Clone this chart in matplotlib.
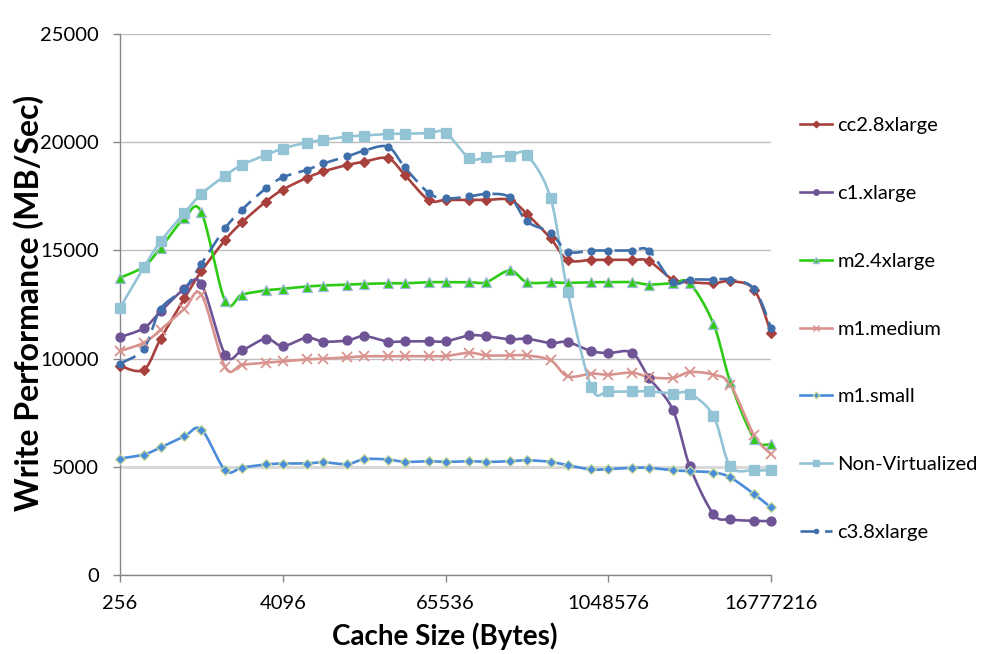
import numpy as np
import matplotlib
matplotlib.use("Agg")
import matplotlib.pyplot as plt
from matplotlib.lines import Line2D

# ---------------- data ----------------
cache_sizes = [256, 384, 512, 768, 1024, 1536, 2048, 3072, 4096, 6144, 8192,
               12288, 16384, 24576, 32768, 49152, 65536, 98304, 131072, 196608,
               262144, 393216, 524288, 786432, 1048576, 1572864, 2097152,
               3145728, 4194304, 6291456, 8388608, 12582912, 16777216]

cc2_8xlarge = [9660, 9490, 10920, 12790, 14035, 15480, 16295, 17250, 17800, 18340,
               18640, 18940, 19090, 19250, 18480, 17325, 17325, 17325, 17325, 17325,
               16680, 15550, 14560, 14560, 14560, 14560, 14500, 13650, 13530, 13480,
               13575, 13190, 11180]
c1_xlarge = [10995, 11410, 12180, 13225, 13455, 10185, 10380, 10920, 10580, 10965,
             10790, 10840, 11040, 10790, 10800, 10800, 10800, 11070, 11040, 10890,
             10920, 10720, 10765, 10350, 10260, 10275, 9125, 7650, 5050, 2825,
             2580, 2515, 2500]
m2_4xlarge = [13730, 14250, 15115, 16500, 16755, 12655, 12960, 13150, 13225, 13330,
              13375, 13420, 13450, 13480, 13480, 13530, 13530, 13530, 13530, 14070,
              13530, 13520, 13500, 13530, 13530, 13530, 13420, 13480, 13480, 11610,
              8920, 6310, 6050]
m1_medium = [10350, 10735, 11335, 12300, 12950, 9610, 9720, 9815, 9875, 9965,
             10000, 10060, 10110, 10110, 10120, 10120, 10120, 10275, 10150, 10150,
             10150, 9920, 9185, 9310, 9260, 9355, 9150, 9105, 9380, 9260,
             8800, 6465, 5590]
m1_small = [5390, 5575, 5900, 6420, 6730, 4850, 4975, 5115, 5160, 5160,
            5220, 5130, 5360, 5345, 5235, 5265, 5235, 5265, 5235, 5265,
            5310, 5235, 5080, 4885, 4900, 4960, 4960, 4850, 4805, 4745,
            4515, 3745, 3130]
non_virtualized = [12350, 14220, 15420, 16730, 17600, 18450, 18950, 19400, 19700, 19970,
                   20100, 20250, 20300, 20370, 20380, 20410, 20430, 19260, 19290, 19370,
                   19400, 17400, 13100, 8680, 8490, 8490, 8490, 8390, 8390, 7355,
                   5037, 4852, 4852]
c3_8xlarge = [9770, 10460, 12300, 13225, 14380, 16020, 16880, 17860, 18370, 18710,
              19010, 19335, 19600, 19780, 18830, 17650, 17400, 17490, 17600, 17450,
              16340, 15810, 14945, 14990, 14990, 14990, 14990, 13530, 13650, 13650,
              13650, 13225, 11430]

series_names = ["cc2.8xlarge", "c1.xlarge", "m2.4xlarge", "m1.medium",
                "m1.small", "Non-Virtualized", "c3.8xlarge"]
series_values = [cc2_8xlarge, c1_xlarge, m2_4xlarge, m1_medium,
                 m1_small, non_virtualized, c3_8xlarge]

xtick_values = [256, 4096, 65536, 1048576, 16777216]
xtick_labels = ["256", "4096", "65536", "1048576", "16777216"]
ytick_values = [0, 5000, 10000, 15000, 20000, 25000]
ytick_labels = ["0", "5000", "10000", "15000", "20000", "25000"]

x_label = "Cache Size (Bytes)"
y_label = "Write Performance (MB/Sec)"

# ---------------- styles ----------------
styles = [
    dict(color="#A8413D", marker="D", ms=5.5, mfc="#A8413D", mec="#A8413D", ls="-"),
    dict(color="#6F5495", marker="o", ms=6.5, mfc="#6F5495", mec="#6F5495", ls="-"),
    dict(color="#2DCB14", marker="^", ms=6.5, mfc="#2DCB14", mec="#A3B8DD", ls="-"),
    dict(color="#D8938F", marker="x", ms=6.5, mfc="#D8938F", mec="#D8938F", ls="-"),
    dict(color="#4A8BDA", marker="D", ms=5.5, mfc="#4A8BDA", mec="#C5DB9A", ls="-"),
    dict(color="#92C4D6", marker="s", ms=7, mfc="#92C4D6", mec="#92C4D6", ls="-"),
    dict(color="#3F6FAB", marker="o", ms=5, mfc="#3F6FAB", mec="#3F6FAB", ls="--"),
]

plt.rcParams["font.family"] = ["Lato", "DejaVu Sans"]


def smooth(xs, ys, n=24):
    """Bezier smoothing like spreadsheet 'smoothed line' (in log2-x space)."""
    P = np.column_stack([np.log2(np.asarray(xs, float)), np.asarray(ys, float)])
    Q = np.vstack([P[0], P, P[-1]])
    t = np.linspace(0, 1, n, endpoint=False)[:, None]
    segs = []
    for i in range(1, len(Q) - 2):
        p0, p1, p2, p3 = Q[i - 1], Q[i], Q[i + 1], Q[i + 2]
        c1 = p1 + (p2 - p0) / 6.0
        c2 = p2 - (p3 - p1) / 6.0
        segs.append((1 - t) ** 3 * p1 + 3 * (1 - t) ** 2 * t * c1
                    + 3 * (1 - t) * t ** 2 * c2 + t ** 3 * p2)
    segs.append(Q[-2][None, :])
    S = np.vstack(segs)
    return 2 ** S[:, 0], S[:, 1]


fig = plt.figure(figsize=(9.92, 6.54), dpi=100)
ax = fig.add_axes([120 / 992, 1 - 575.3 / 654, 651 / 992, (575.3 - 33.7) / 654])

lw = 1.9
handles = []
for name, vals, st in zip(series_names, series_values, styles):
    sx, sy = smooth(cache_sizes, vals)
    line, = ax.plot(sx, sy, color=st["color"], lw=lw, ls=st["ls"], clip_on=False,
                    solid_capstyle="round", zorder=3)
    if st["ls"] == "--":
        line.set_dashes((6.5, 2.8))
    ax.plot(cache_sizes, vals, ls="none", marker=st["marker"], ms=st["ms"],
            mfc=st["mfc"], mec=st["mec"], mew=1.3 if st["marker"] == "x" else 0.9,
            clip_on=False, zorder=4)
    h = Line2D([], [], color=st["color"], lw=lw, ls=st["ls"], marker=st["marker"],
               ms=st["ms"] * 0.6, mfc=st["mfc"], mec=st["mec"])
    if st["ls"] == "--":
        h.set_dashes((6.5, 2.8))
    handles.append(h)

ax.set_xscale("log", base=2)
ax.set_xlim(cache_sizes[0], cache_sizes[-1])
ax.set_ylim(ytick_values[0], ytick_values[-1])
ax.set_xticks(xtick_values)
ax.set_xticklabels(xtick_labels)
ax.xaxis.set_minor_locator(matplotlib.ticker.NullLocator())
ax.set_yticks(ytick_values)
ax.set_yticklabels(ytick_labels)

ax.tick_params(axis="both", which="major", direction="out", length=5, width=1,
               color="#868686", labelsize=14.5, labelcolor="#000000")
ax.tick_params(axis="y", pad=10)
ax.tick_params(axis="x", pad=9)

ax.grid(axis="y", color="#BEBEBE", lw=1.0, zorder=0)
ax.set_axisbelow(True)
for gl, v in zip(ax.yaxis.get_gridlines(), ytick_values):
    if v == 5000:
        gl.set_color("#D9D9D9")
        gl.set_linewidth(2.2)
for side in ("top", "right"):
    ax.spines[side].set_visible(False)
for side in ("left", "bottom"):
    ax.spines[side].set_color("#868686")
    ax.spines[side].set_linewidth(1.0)

fig.text(445 / 992, 1 - 636 / 654, x_label, fontsize=20, fontweight="bold",
         ha="center", va="center")
fig.text(29 / 992, 1 - 303 / 654, y_label, fontsize=23, fontweight="bold",
         ha="center", va="center", rotation=90)

fig.legend(handles, series_names, loc="center left",
           bbox_to_anchor=(800 / 992, 1 - 329 / 654), frameon=False,
           fontsize=14.5, handlelength=1.6, handletextpad=0.25,
           labelspacing=2.52, borderpad=0, borderaxespad=0)

fig.savefig("out.png", dpi=100)
